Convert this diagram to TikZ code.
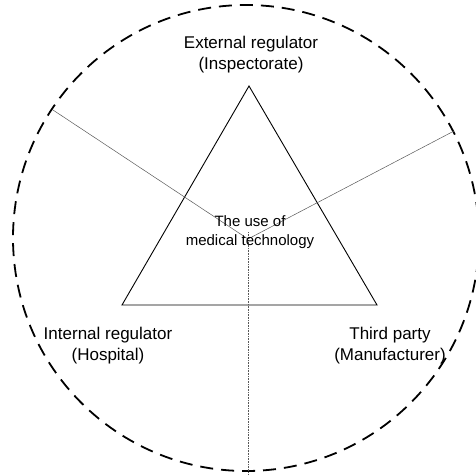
\documentclass[tikz,border=0pt]{standalone}
\usepackage{fontspec}
\setmainfont{Liberation Sans}
\begin{document}
\begin{tikzpicture}[x=1pt,y=-1pt,
  outer/.style={align=center,font=\fontsize{17}{21}\selectfont,inner sep=0pt},
  inner/.style={align=center,font=\fontsize{15}{19}\selectfont,inner sep=0pt},
  spoke/.style={gray!70!black,line width=0.5pt},
  vspoke/.style={gray!70!black,line width=0.6pt,densely dotted},
  tri/.style={black,line width=0.9pt,line join=miter},
  ring/.style={black,line width=1.8pt,dash pattern=on 13pt off 8pt}]
\useasboundingbox (0,0) rectangle (476,474);
\clip (0,0) rectangle (476,474);
\draw[ring] (246,238) circle[radius=233];
\coordinate (apex) at (249,86);
\coordinate (bl) at (122,305);
\coordinate (br) at (377,305);
\draw[tri] (apex) -- (bl) -- (br) -- cycle;
\coordinate (c) at (248,239);
\coordinate (eL) at (53,110);
\coordinate (eR) at (454,131);
\coordinate (eB) at (248,474);
\draw[spoke] (c) -- (eL);
\draw[spoke] (c) -- (eR);
\draw[vspoke] (248,232) -- (eB);
\node[inner] (use) at (250,232) {The use of\\medical technology};
\node[outer] (ext) at (251,55) {External regulator\\(Inspectorate)};
\node[outer] (int) at (108,346) {Internal regulator\\(Hospital)};
\node[outer] (tp) at (390,346) {Third party\\(Manufacturer)};
\end{tikzpicture}
\end{document}
